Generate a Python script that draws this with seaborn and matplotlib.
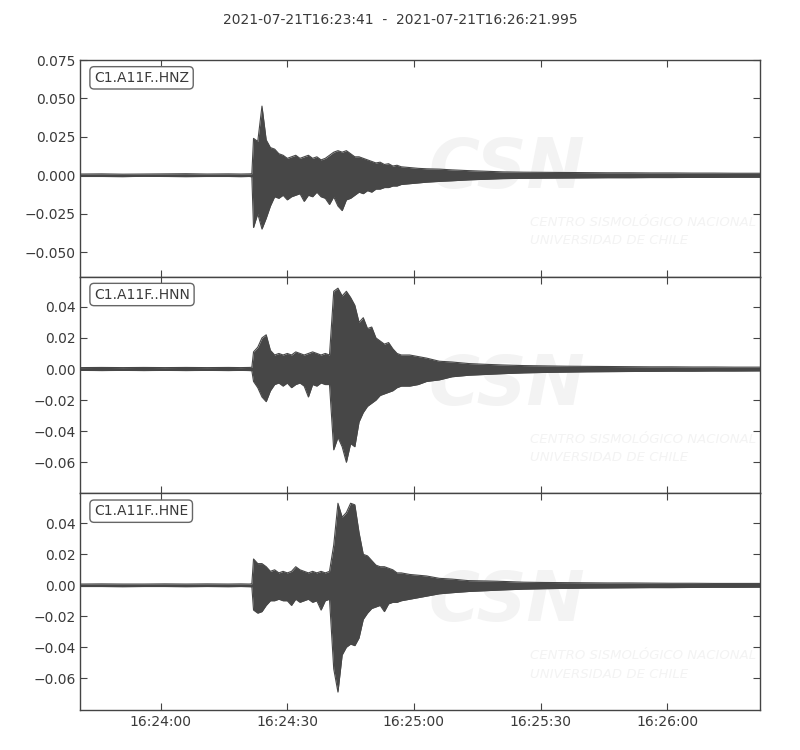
import pandas as pd
import numpy as np
import matplotlib
matplotlib.use("Agg")
import matplotlib.pyplot as plt
import matplotlib.dates as mdates
import seaborn as sns

START = pd.Timestamp("2021-07-21 16:23:41")
END = pd.Timestamp("2021-07-21 16:26:21.995")
TITLE = "2021-07-21T16:23:41  -  2021-07-21T16:26:21.995"

# seconds after START (shared by all three channels)
TIME_S = [0, 5, 10, 15, 20, 25, 30, 35, 38, 40, 40.6,
          41, 42, 43, 44, 45, 46, 47, 48, 49, 50, 51, 52, 53, 54, 55, 56, 57, 58,
          59, 60, 61, 62, 63, 64, 65, 66, 67, 68, 69, 70, 71, 72, 73, 74, 75,
          76, 78, 80, 82, 85, 88, 92, 96, 100, 105, 110, 115, 120, 125, 130,
          135, 140, 145, 150, 155, 161.99]

# HNZ envelope (m/s^2)
HNZ_UP = [0.0008, 0.0009, 0.0007, 0.0008, 0.0009, 0.0010, 0.0008, 0.0009, 0.0008, 0.0009, 0.0010,
          0.024, 0.022, 0.045, 0.023, 0.018, 0.017, 0.014, 0.013, 0.011, 0.012, 0.013, 0.011,
          0.012, 0.013, 0.011, 0.012, 0.010, 0.011, 0.013, 0.015, 0.016, 0.015, 0.016, 0.014,
          0.012, 0.012, 0.011, 0.010, 0.009, 0.008, 0.0085, 0.007, 0.0075, 0.006, 0.0065,
          0.0055, 0.005, 0.0045, 0.0042, 0.004, 0.0035, 0.003, 0.0026, 0.0022, 0.002, 0.0019,
          0.0018, 0.0017, 0.0016, 0.0016, 0.0015, 0.0015, 0.0014, 0.0014, 0.0013, 0.0013]
HNZ_LO = [-0.0008, -0.0008, -0.0009, -0.0007, -0.0008, -0.0009, -0.0008, -0.0008, -0.0009, -0.0008, -0.0010,
          -0.034, -0.025, -0.035, -0.028, -0.020, -0.014, -0.015, -0.013, -0.016, -0.014, -0.013,
          -0.012, -0.017, -0.013, -0.014, -0.011, -0.014, -0.015, -0.019, -0.014, -0.020, -0.023,
          -0.016, -0.015, -0.013, -0.011, -0.012, -0.010, -0.011, -0.009, -0.009, -0.008, -0.008,
          -0.007, -0.007,
          -0.006, -0.0055, -0.005, -0.0045, -0.004, -0.0036, -0.003, -0.0026, -0.0022, -0.002,
          -0.0019, -0.0018, -0.0017, -0.0016, -0.0016, -0.0015, -0.0015, -0.0014, -0.0014,
          -0.0013, -0.0013]

# HNN envelope
HNN_UP = [0.0009, 0.0010, 0.0009, 0.0010, 0.0009, 0.0010, 0.0009, 0.0010, 0.0009, 0.0010, 0.0011,
          0.011, 0.014, 0.020, 0.022, 0.012, 0.009, 0.010, 0.009, 0.010, 0.009, 0.011, 0.010,
          0.009, 0.010, 0.011, 0.010, 0.009, 0.010, 0.009, 0.050, 0.052, 0.047, 0.050, 0.046,
          0.041, 0.030, 0.033, 0.026, 0.027, 0.020, 0.018, 0.016, 0.017, 0.013, 0.010,
          0.009, 0.009, 0.008, 0.007, 0.005, 0.0045, 0.0035, 0.003, 0.0026, 0.0022, 0.002,
          0.0018, 0.0017, 0.0016, 0.0015, 0.0014, 0.0014, 0.0013, 0.0013, 0.0012, 0.0012]
HNN_LO = [-0.0009, -0.0010, -0.0009, -0.0010, -0.0009, -0.0010, -0.0009, -0.0010, -0.0009, -0.0010, -0.0011,
          -0.008, -0.012, -0.018, -0.021, -0.014, -0.010, -0.009, -0.011, -0.009, -0.012, -0.010,
          -0.009, -0.011, -0.018, -0.010, -0.011, -0.009, -0.010, -0.010, -0.052, -0.044, -0.050,
          -0.060, -0.048, -0.050, -0.034, -0.028, -0.024, -0.022, -0.020, -0.017, -0.016, -0.015,
          -0.014, -0.012,
          -0.011, -0.011, -0.010, -0.008, -0.007, -0.005, -0.004, -0.0035, -0.003, -0.0025,
          -0.0022, -0.002, -0.0018, -0.0017, -0.0016, -0.0015, -0.0014, -0.0014, -0.0013,
          -0.0013, -0.0012]

# HNE envelope
HNE_UP = [0.0008, 0.0009, 0.0008, 0.0008, 0.0009, 0.0008, 0.0009, 0.0008, 0.0009, 0.0008, 0.0010,
          0.017, 0.014, 0.014, 0.012, 0.009, 0.010, 0.008, 0.009, 0.008, 0.009, 0.012, 0.010,
          0.009, 0.008, 0.009, 0.008, 0.009, 0.008, 0.009, 0.026, 0.053, 0.044, 0.047, 0.053,
          0.052, 0.034, 0.020, 0.019, 0.016, 0.013, 0.012, 0.012, 0.011, 0.010, 0.008,
          0.008, 0.007, 0.0065, 0.006, 0.0045, 0.004, 0.003, 0.0028, 0.0025, 0.002, 0.0018,
          0.0017, 0.0016, 0.0015, 0.0015, 0.0014, 0.0013, 0.0013, 0.0012, 0.0012, 0.0012]
HNE_LO = [-0.0008, -0.0008, -0.0009, -0.0008, -0.0008, -0.0009, -0.0008, -0.0009, -0.0008, -0.0009, -0.0010,
          -0.016, -0.018, -0.017, -0.013, -0.010, -0.010, -0.009, -0.010, -0.010, -0.013, -0.009,
          -0.011, -0.010, -0.009, -0.011, -0.010, -0.016, -0.010, -0.009, -0.054, -0.069, -0.045,
          -0.040, -0.038, -0.039, -0.034, -0.022, -0.018, -0.015, -0.014, -0.013, -0.017, -0.012,
          -0.011, -0.011,
          -0.010, -0.009, -0.008, -0.007, -0.0055, -0.0048, -0.004, -0.0035, -0.003, -0.0025,
          -0.0022, -0.002, -0.0018, -0.0017, -0.0016, -0.0015, -0.0015, -0.0014, -0.0013,
          -0.0013, -0.0012]

CHANNELS = ["C1.A11F..HNZ", "C1.A11F..HNN", "C1.A11F..HNE"]
YTICKS = [[-0.05, -0.025, 0.0, 0.025, 0.05, 0.075],
          [-0.06, -0.04, -0.02, 0.0, 0.02, 0.04],
          [-0.06, -0.04, -0.02, 0.0, 0.02, 0.04]]
YLIMS = [(-0.066, 0.075), (-0.080, 0.0594), (-0.0806, 0.0594)]
YFMT = ["{:.3f}", "{:.2f}", "{:.2f}"]

TRACE_COLOR = "#474747"
AXIS_COLOR = "#444444"
TEXT_COLOR = "#3a3a3a"
WM_COLOR = "#f3f3f3"

sns.set_style("ticks")
plt.rcParams["font.family"] = ["DejaVu Sans"]
plt.rcParams.update({
    "xtick.direction": "in", "ytick.direction": "in",
    "xtick.top": True, "ytick.right": True,
    "xtick.major.size": 5, "ytick.major.size": 5,
    "xtick.color": AXIS_COLOR, "ytick.color": AXIS_COLOR,
    "xtick.labelcolor": TEXT_COLOR, "ytick.labelcolor": TEXT_COLOR,
    "axes.edgecolor": AXIS_COLOR, "axes.linewidth": 1.0,
    "xtick.labelsize": 10, "ytick.labelsize": 10,
})

times = START + pd.to_timedelta(TIME_S, unit="s")
traces = [(HNZ_UP, HNZ_LO), (HNN_UP, HNN_LO), (HNE_UP, HNE_LO)]

fig, axes = plt.subplots(3, 1, figsize=(8, 7.5), dpi=100, sharex=True)
fig.subplots_adjust(left=0.1006, right=0.95, top=0.92, bottom=0.0533, hspace=0)

for i, ax in enumerate(axes):
    up, lo = traces[i]
    df = pd.DataFrame({"time": times, "up": up, "lo": lo})

    # faint CSN watermark
    ax.text(0.628, 0.50, "CSN", transform=ax.transAxes, fontsize=50, fontweight="bold",
            fontstyle="italic", color=WM_COLOR, ha="center", va="center", zorder=0)
    ax.text(0.662, 0.25, "CENTRO SISMOLÓGICO NACIONAL", transform=ax.transAxes, fontsize=9.5,
            fontstyle="italic", color=WM_COLOR, ha="left", va="center", zorder=0)
    ax.text(0.662, 0.165, "UNIVERSIDAD DE CHILE", transform=ax.transAxes, fontsize=9.5,
            fontstyle="italic", color=WM_COLOR, ha="left", va="center", zorder=0)

    ax.fill_between(df["time"], df["lo"], df["up"], color=TRACE_COLOR, linewidth=0, zorder=2)
    sns.lineplot(data=df, x="time", y="up", ax=ax, color=TRACE_COLOR, linewidth=0.8,
                 estimator=None, zorder=3)
    sns.lineplot(data=df, x="time", y="lo", ax=ax, color=TRACE_COLOR, linewidth=0.8,
                 estimator=None, zorder=3)

    ax.set_ylim(*YLIMS[i])
    ax.set_yticks(YTICKS[i])
    ax.set_yticklabels([YFMT[i].format(v).replace("-", "\u2212") for v in YTICKS[i]])
    ax.set_xlabel("")
    ax.set_ylabel("")
    ax.text(0.02, 0.95, CHANNELS[i], transform=ax.transAxes, fontsize=10, color=TEXT_COLOR,
            ha="left", va="top", zorder=5,
            bbox=dict(boxstyle="round,pad=0.3", fc="white", ec="#666666", lw=1.0))

axes[-1].set_xlim(START, END)
axes[-1].xaxis.set_major_locator(mdates.SecondLocator(bysecond=[0, 30]))
axes[-1].xaxis.set_major_formatter(mdates.DateFormatter("%H:%M:%S"))

fig.suptitle(TITLE, y=0.973, va="center", fontsize=10, color=TEXT_COLOR)
fig.savefig("out.png", dpi=100)
plt.close(fig)
